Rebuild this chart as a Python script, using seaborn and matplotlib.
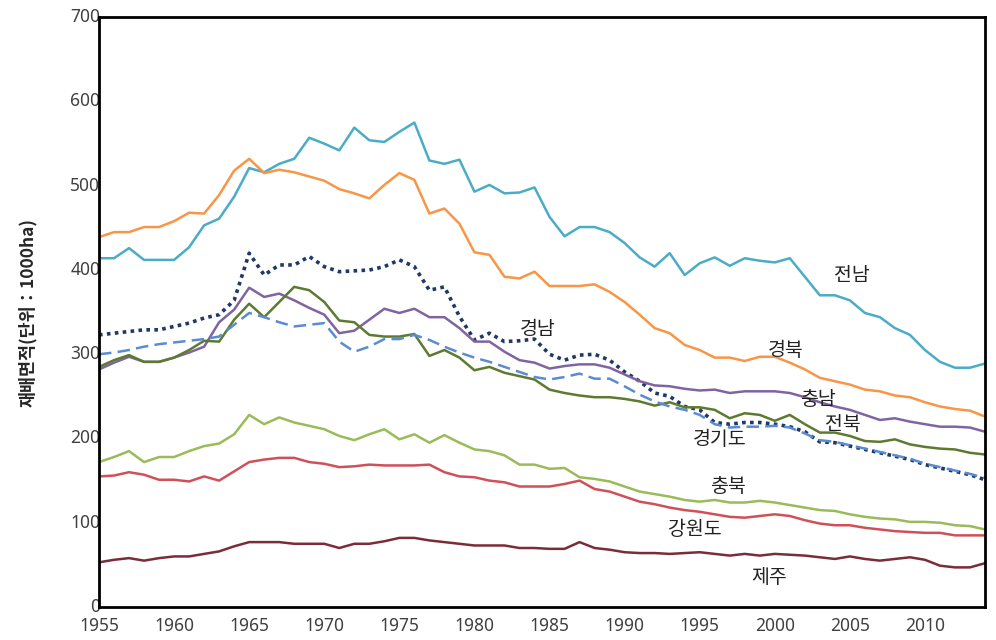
import matplotlib
matplotlib.use('Agg')
import matplotlib.pyplot as plt
import matplotlib.transforms as mtransforms
import seaborn as sns
import pandas as pd

# Years 1955-2014, area in 1000 ha
years = list(range(1955, 2015))

jeonnam = [414, 414, 426, 412, 412, 412, 427, 453, 461, 487,
           521, 516, 526, 532, 557, 550, 542, 569, 554, 552,
           564, 575, 530, 526, 531, 493, 501, 491, 492, 498,
           463, 440, 451, 451, 445, 432, 415, 404, 420, 394,
           408, 415, 405, 414, 411, 409, 414, 392, 370, 370,
           364, 349, 344, 331, 323, 305, 291, 284, 284, 289]

gyeongbuk = [439, 445, 445, 451, 451, 458, 468, 467, 489, 518,
             532, 515, 519, 516, 511, 506, 496, 491, 485, 501,
             515, 507, 467, 473, 455, 421, 418, 392, 390, 398,
             381, 381, 381, 383, 374, 362, 347, 331, 325, 311,
             305, 296, 296, 292, 297, 297, 290, 282, 272, 268,
             264, 258, 256, 251, 249, 243, 238, 235, 233, 226]

gyeongnam = [323, 325, 327, 329, 329, 333, 337, 343, 347, 364,
             420, 394, 406, 406, 416, 404, 398, 399, 400, 404,
             412, 404, 376, 380, 345, 317, 325, 315, 316, 318,
             300, 293, 299, 300, 293, 279, 268, 254, 250, 238,
             234, 219, 217, 219, 219, 217, 214, 208, 196, 195,
             191, 187, 183, 179, 175, 169, 165, 161, 157, 151]

chungnam = [282, 290, 297, 291, 291, 296, 302, 309, 338, 353,
            379, 368, 372, 364, 355, 347, 325, 328, 341, 354,
            349, 354, 344, 344, 331, 315, 315, 303, 293, 290,
            283, 286, 288, 288, 284, 276, 268, 263, 262, 259,
            257, 258, 254, 256, 256, 256, 254, 249, 243, 238,
            234, 228, 222, 224, 220, 217, 214, 214, 213, 208]

jeonbuk = [285, 293, 299, 291, 291, 296, 305, 316, 315, 341,
           360, 344, 362, 380, 376, 362, 340, 338, 323, 321,
           321, 324, 298, 305, 296, 281, 285, 278, 274, 270,
           258, 254, 251, 249, 249, 247, 244, 239, 243, 237,
           237, 234, 224, 230, 228, 221, 228, 217, 207, 207,
           203, 197, 196, 199, 193, 190, 188, 187, 183, 181]

gyeonggi = [300, 302, 305, 309, 312, 314, 316, 318, 321, 335,
            349, 344, 338, 333, 335, 337, 315, 303, 309, 318,
            318, 323, 317, 309, 302, 296, 291, 285, 279, 273,
            270, 273, 277, 271, 271, 262, 252, 244, 238, 234,
            228, 217, 213, 214, 214, 215, 213, 206, 198, 196,
            192, 188, 184, 180, 176, 170, 166, 162, 158, 153]

chungbuk = [172, 178, 185, 172, 178, 178, 185, 191, 194, 205,
            228, 217, 225, 219, 215, 211, 203, 198, 205, 211,
            199, 205, 195, 204, 195, 187, 185, 180, 169, 169,
            164, 165, 154, 152, 149, 143, 137, 134, 131, 127,
            125, 127, 124, 124, 126, 124, 121, 118, 115, 114,
            110, 107, 105, 104, 101, 101, 100, 97, 96, 92]

gangwon = [155, 156, 160, 157, 151, 151, 149, 155, 150, 161,
           172, 175, 177, 177, 172, 170, 166, 167, 169, 168,
           168, 168, 169, 160, 155, 154, 150, 148, 143, 143,
           143, 146, 150, 140, 137, 131, 125, 122, 118, 115,
           113, 110, 107, 106, 108, 110, 108, 103, 99, 97,
           97, 94, 92, 90, 89, 88, 88, 85, 85, 85]

jeju = [53, 56, 58, 55, 58, 60, 60, 63, 66, 72,
        77, 77, 77, 75, 75, 75, 70, 75, 75, 78,
        82, 82, 79, 77, 75, 73, 73, 73, 70, 70,
        69, 69, 77, 70, 68, 65, 64, 64, 63, 64,
        65, 63, 61, 63, 61, 63, 62, 61, 59, 57,
        60, 57, 55, 57, 59, 56, 49, 47, 47, 52]

regions = ['전남', '경북', '경남', '충남', '전북', '경기도', '충북', '강원도', '제주']
values = [jeonnam, gyeongbuk, gyeongnam, chungnam, jeonbuk, gyeonggi, chungbuk, gangwon, jeju]

colors = {'전남': '#4BACC6', '경북': '#F79646', '경남': '#1F3864', '충남': '#8064A2',
          '전북': '#5E7A30', '경기도': '#5B8BD0', '충북': '#9BBB59', '강원도': '#D0505A',
          '제주': '#7B2C3A'}
styles = {'경남': (0, (1.0, 1.2)), '경기도': (0, (5, 2.5))}
widths = {'경남': 2.6}

# label positions (year, value)
label_x = [2005.1, 2000.7, 1984.2, 2002.9, 2004.5, 1996.3, 1996.9, 1994.7, 1999.6]
label_y = [394, 304, 329, 246, 217, 199, 143, 92, 35]

df = pd.DataFrame({'year': years * len(regions),
                   'area': [v for vals in values for v in vals],
                   'region': [r for r in regions for _ in years]})

sns.set_theme(style='white')
plt.rcParams['font.family'] = ['Noto Sans CJK KR', 'DejaVu Sans']

fig = plt.figure(figsize=(9.96, 6.4), dpi=100)
ax = fig.add_axes([0.0994, 0.0516, 0.8896, 0.9214])

for r in regions:
    sub = df[df['region'] == r]
    sns.lineplot(data=sub, x='year', y='area', ax=ax, color=colors[r],
                 linewidth=widths.get(r, 1.8), linestyle=styles.get(r, '-'),
                 solid_joinstyle='round', dash_capstyle='butt')

for r, lx, ly in zip(regions, label_x, label_y):
    ax.text(lx, ly, r, fontsize=14, color='#222222', ha='center', va='center')

ax.set_xlim(1955, 2014)
ax.set_ylim(0, 700)
ax.set_xticks(range(1955, 2015, 5))
ax.set_yticks(range(0, 701, 100))
ax.tick_params(axis='both', length=0, labelsize=12.5, labelcolor='#404040')
ax.tick_params(axis='y', pad=-1)
ax.tick_params(axis='x', pad=7)
for lab in ax.get_xticklabels() + ax.get_yticklabels():
    lab.set_family(['Noto Sans', 'DejaVu Sans'])
# nudge y tick labels up slightly so "0" clears "1955"
shift = mtransforms.ScaledTranslation(0, 1.5 / 72, fig.dpi_scale_trans)
for lab in ax.get_yticklabels():
    lab.set_transform(lab.get_transform() + shift)
ax.set_xlabel('')
ax.set_ylabel('재배면적(단위：1000ha)', fontsize=12.5, fontweight='bold', labelpad=24)

for side in ['left', 'bottom', 'top', 'right']:
    ax.spines[side].set_visible(True)
    ax.spines[side].set_color('black')
    ax.spines[side].set_linewidth(2.0)

fig.savefig('out.png', dpi=100)
